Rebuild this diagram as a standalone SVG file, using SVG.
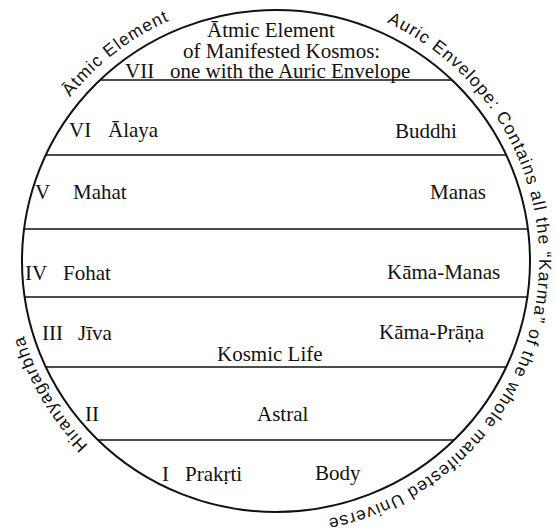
<svg xmlns="http://www.w3.org/2000/svg" width="557" height="532" viewBox="0 0 557 532">
<style>
  .lbl { font-family: "Liberation Serif", "DejaVu Serif", serif; font-size: 21px; fill: #111111; }
  .arc { font-family: "Liberation Sans", "DejaVu Sans", sans-serif; font-size: 17.5px; fill: #111111; letter-spacing: 1.1px; }
  .div { stroke: #111111; stroke-width: 1.6; fill: none; }
  .rim { stroke: #111111; stroke-width: 2; fill: none; }
</style>
<defs>
  <path id="pAtmic" d="M70.2,97.3 A263,263 0 0,1 230.3,2"/>
  <path id="pAuric" d="M386.7,22.4 A263,263 0 0,1 230.3,520"/>
  <path id="pHiran" d="M88.4,445.3 A263,263 0 0,1 14,283.9"/>
</defs>
<rect width="557" height="532" fill="#ffffff"/>
<ellipse class="rim" cx="276" cy="261" rx="254" ry="251"/>
<g id="dividers">
  <line class="div" x1="100" y1="80" x2="452" y2="80"/>
  <line class="div" x1="45.8" y1="155" x2="506.2" y2="155"/>
  <line class="div" x1="24.1" y1="229" x2="527.9" y2="229"/>
  <line class="div" x1="24.6" y1="297" x2="527.4" y2="297"/>
  <line class="div" x1="45.8" y1="367" x2="506.2" y2="367"/>
  <line class="div" x1="97.9" y1="440" x2="454.1" y2="440"/>
</g>
<g id="band7">
  <text class="lbl" x="207" y="37">Ātmic Element</text>
  <text class="lbl" x="183" y="58">of Manifested Kosmos:</text>
  <text class="lbl" x="125" y="78">VII</text>
  <text class="lbl" x="170" y="78">one with the Auric Envelope</text>
</g>
<g id="band6">
  <text class="lbl" x="69" y="137">VI</text>
  <text class="lbl" x="108" y="137">Ālaya</text>
  <text class="lbl" x="395" y="138">Buddhi</text>
</g>
<g id="band5">
  <text class="lbl" x="35" y="199">V</text>
  <text class="lbl" x="73" y="199">Mahat</text>
  <text class="lbl" x="430" y="199">Manas</text>
</g>
<g id="band4">
  <text class="lbl" x="25" y="280">IV</text>
  <text class="lbl" x="63" y="280">Fohat</text>
  <text class="lbl" x="387" y="279">Kāma-Manas</text>
</g>
<g id="band3">
  <text class="lbl" x="42" y="340">III</text>
  <text class="lbl" x="78" y="340">Jīva</text>
  <text class="lbl" x="379" y="339">Kāma-Prāṇa</text>
  <text class="lbl" x="217" y="361">Kosmic Life</text>
</g>
<g id="band2">
  <text class="lbl" x="85" y="421">II</text>
  <text class="lbl" x="257" y="421">Astral</text>
</g>
<g id="band1">
  <text class="lbl" x="162" y="481">I</text>
  <text class="lbl" x="185" y="481">Prakṛti</text>
  <text class="lbl" x="315" y="480">Body</text>
</g>
<g id="rim-labels">
  <text class="arc"><textPath href="#pAtmic">Ātmic Element</textPath></text>
  <text class="arc"><textPath href="#pAuric">Auric Envelope: Contains all the “Karma” of the whole manifested Universe</textPath></text>
  <text class="arc"><textPath href="#pHiran">Hiranyagarbha</textPath></text>
</g>
</svg>
